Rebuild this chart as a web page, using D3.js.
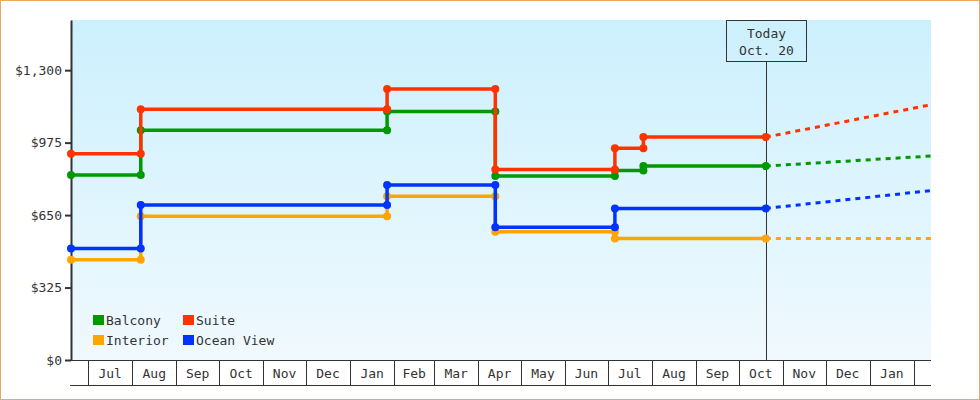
<!DOCTYPE html>
<html>
<head>
<meta charset="utf-8">
<script src="https://cdn.jsdelivr.net/npm/d3@7"></script>
<style>
  html, body { margin: 0; padding: 0; background: #fff; }
  svg { display: block; font-family: "DejaVu Sans Mono", monospace; }
</style>
</head>
<body>
<div id="chart"></div>
<script>
const SERIES_NAMES = ["Balcony", "Suite", "Interior", "Ocean View"];
const SERIES_COLORS = ["#009900", "#ff3300", "#ffa500", "#0033ff"];

// price history: [date, price] with both ends of every step
const balconyHistory = [
  ["2013-06-19", 830], ["2013-08-07", 830], ["2013-08-07", 1030], ["2014-01-27", 1030],
  ["2014-01-27", 1115], ["2014-04-13", 1115], ["2014-04-13", 825], ["2014-07-06", 825],
  ["2014-07-06", 850], ["2014-07-26", 850], ["2014-07-26", 870], ["2014-10-20", 870]
];
const suiteHistory = [
  ["2013-06-19", 925], ["2013-08-07", 925], ["2013-08-07", 1125], ["2014-01-27", 1125],
  ["2014-01-27", 1215], ["2014-04-13", 1215], ["2014-04-13", 855], ["2014-07-06", 855],
  ["2014-07-06", 950], ["2014-07-26", 950], ["2014-07-26", 1000], ["2014-10-20", 1000]
];
const interiorHistory = [
  ["2013-06-19", 450], ["2013-08-07", 450], ["2013-08-07", 645], ["2014-01-27", 645],
  ["2014-01-27", 735], ["2014-04-13", 735], ["2014-04-13", 575], ["2014-07-06", 575],
  ["2014-07-06", 545], ["2014-10-20", 545]
];
const oceanViewHistory = [
  ["2013-06-19", 500], ["2013-08-07", 500], ["2013-08-07", 695], ["2014-01-27", 695],
  ["2014-01-27", 785], ["2014-04-13", 785], ["2014-04-13", 595], ["2014-07-06", 595],
  ["2014-07-06", 680], ["2014-10-20", 680]
];

// projections after today
const balconyForecast = [["2014-10-20", 870], ["2015-02-13", 915]];
const suiteForecast = [["2014-10-20", 1000], ["2015-02-13", 1145]];
const interiorForecast = [["2014-10-20", 545], ["2015-02-13", 545]];
const oceanViewForecast = [["2014-10-20", 680], ["2015-02-13", 760]];

const PRICE_TICKS = [0, 325, 650, 975, 1300];
const PRICE_MAX = 1525;
const X_START = "2013-06-19";
const X_END = "2015-02-13";
const TODAY = "2014-10-20";
const TODAY_LINES = ["Today", "Oct. 20"];

const HISTORY = [balconyHistory, suiteHistory, interiorHistory, oceanViewHistory];
const FORECAST = [balconyForecast, suiteForecast, interiorForecast, oceanViewForecast];

const W = 980, H = 400;
const PLOT = { left: 71, right: 931, top: 20, bottom: 360 };
const AXIS_BAND = 25;
const INK = "#333";

const parse = d3.utcParse("%Y-%m-%d");
const toPoints = rows => rows.map(([d, p]) => ({ date: parse(d), price: p }));

const x = d3.scaleUtc().domain([parse(X_START), parse(X_END)]).range([PLOT.left, PLOT.right]);
const y = d3.scaleLinear().domain([0, PRICE_MAX]).range([PLOT.bottom, PLOT.top]);

const svg = d3.select("#chart").append("svg").attr("width", W).attr("height", H);

const grad = svg.append("defs").append("linearGradient")
  .attr("id", "bg").attr("x1", 0).attr("y1", 0).attr("x2", 0).attr("y2", 1);
grad.append("stop").attr("offset", "0%").attr("stop-color", "#ccf0fd");
grad.append("stop").attr("offset", "100%").attr("stop-color", "#f0f9fe");

svg.append("rect")
  .attr("x", 0.5).attr("y", 0.5).attr("width", W - 1).attr("height", H - 1)
  .attr("fill", "#fff").attr("stroke", "#eaa862");

svg.append("rect")
  .attr("x", PLOT.left).attr("y", PLOT.top)
  .attr("width", PLOT.right - PLOT.left).attr("height", PLOT.bottom - PLOT.top)
  .attr("fill", "url(#bg)");

// month band under the plot
const band = svg.append("g").attr("stroke", INK).attr("stroke-width", 1);
band.append("line")
  .attr("x1", PLOT.left - 1).attr("x2", PLOT.right)
  .attr("y1", PLOT.bottom + 0.5).attr("y2", PLOT.bottom + 0.5);
band.append("line")
  .attr("x1", PLOT.left - 1).attr("x2", PLOT.right)
  .attr("y1", PLOT.bottom + AXIS_BAND + 0.5).attr("y2", PLOT.bottom + AXIS_BAND + 0.5);

const months = d3.utcMonth.range(d3.utcMonth.ceil(x.domain()[0]), x.domain()[1]);
band.selectAll(".sep").data(months).join("line")
  .attr("x1", d => Math.round(x(d)) + 0.5).attr("x2", d => Math.round(x(d)) + 0.5)
  .attr("y1", PLOT.bottom).attr("y2", PLOT.bottom + AXIS_BAND);

const fullMonths = months.filter(m => d3.utcMonth.offset(m, 1) <= x.domain()[1]);
svg.append("g").selectAll("text").data(fullMonths).join("text")
  .attr("x", d => (x(d) + x(d3.utcMonth.offset(d, 1))) / 2)
  .attr("y", PLOT.bottom + AXIS_BAND / 2 + 1)
  .attr("text-anchor", "middle").attr("dominant-baseline", "central")
  .attr("font-size", 13).attr("fill", INK)
  .text(d3.utcFormat("%b"));

// price axis
const yAxis = svg.append("g")
  .attr("transform", `translate(${PLOT.left},0)`)
  .call(d3.axisLeft(y).tickValues(PRICE_TICKS).tickSize(6).tickSizeOuter(0).tickPadding(3)
    .tickFormat(d => "$" + d3.format(",")(d)));
yAxis.select(".domain").attr("stroke", INK).attr("stroke-width", 2);
yAxis.selectAll(".tick line").attr("stroke", INK).attr("stroke-width", 2);
yAxis.selectAll(".tick text").attr("font-size", 13).attr("fill", INK)
  .attr("font-family", "DejaVu Sans Mono, monospace");

// today marker
const todayX = Math.round(x(parse(TODAY))) + 0.5;
const boxW = 80, boxH = 41;
svg.append("line")
  .attr("x1", todayX).attr("x2", todayX)
  .attr("y1", PLOT.top + boxH).attr("y2", PLOT.bottom)
  .attr("stroke", INK).attr("stroke-width", 1);
svg.append("rect")
  .attr("x", todayX - boxW / 2).attr("y", PLOT.top + 0.5)
  .attr("width", boxW).attr("height", boxH)
  .attr("fill", "none").attr("stroke", INK);
svg.append("g").selectAll("text").data(TODAY_LINES).join("text")
  .attr("x", todayX).attr("y", (d, i) => PLOT.top + 13 + i * 17)
  .attr("text-anchor", "middle").attr("dominant-baseline", "central")
  .attr("font-size", 13).attr("fill", INK)
  .text(d => d);

// series
const line = d3.line().x(d => x(d.date)).y(d => y(d.price));

SERIES_NAMES.forEach((name, i) => {
  const color = SERIES_COLORS[i];
  const g = svg.append("g");
  g.append("path")
    .datum(toPoints(FORECAST[i]))
    .attr("d", line).attr("fill", "none")
    .attr("stroke", color).attr("stroke-width", 3).attr("stroke-dasharray", "5,5");
  const pts = toPoints(HISTORY[i]);
  g.append("path")
    .datum(pts)
    .attr("d", line).attr("fill", "none")
    .attr("stroke", color).attr("stroke-width", 3.5);
  g.selectAll("circle").data(pts).join("circle")
    .attr("cx", d => x(d.date)).attr("cy", d => y(d.price))
    .attr("r", 4).attr("fill", color);
});

// legend, two columns
const legend = svg.append("g").selectAll("g").data(SERIES_NAMES).join("g")
  .attr("transform", (d, i) => `translate(${93 + (i % 2) * 90},${315 + Math.floor(i / 2) * 20})`);
legend.append("rect")
  .attr("width", 11).attr("height", 10)
  .attr("fill", (d, i) => SERIES_COLORS[i]);
legend.append("text")
  .attr("x", 13).attr("y", 5).attr("dominant-baseline", "central")
  .attr("font-size", 13).attr("fill", INK)
  .text(d => d);
</script>
</body>
</html>
